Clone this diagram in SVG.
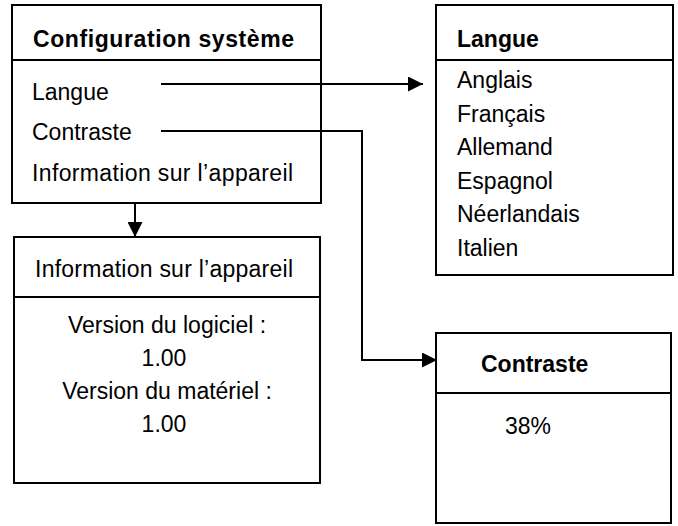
<svg xmlns="http://www.w3.org/2000/svg" width="678" height="526" viewBox="0 0 678 526">
<defs>
<style>
.box{fill:#fff;stroke:#000;stroke-width:2}
.div{stroke:#000;stroke-width:2}
.t{font-family:"Liberation Sans",Arial,sans-serif;font-size:23px;fill:#000}
.b{font-weight:bold}
.c{text-anchor:middle}
.con{fill:none;stroke:#000;stroke-width:2}
</style>
<marker id="ah" viewBox="0 0 15 15" refX="15" refY="7.5" markerWidth="15" markerHeight="15" markerUnits="userSpaceOnUse" orient="auto">
<path d="M0,0 L15,7.5 L0,15 Z" fill="#000"/>
</marker>
</defs>
<rect width="678" height="526" fill="#fff"/>
<g id="config">
<rect class="box" x="12" y="5" width="309" height="198"/>
<line class="div" x1="12" y1="60" x2="321" y2="60"/>
<text class="t b" x="33" y="47" textLength="261" lengthAdjust="spacing">Configuration système</text>
<text class="t" x="32" y="100">Langue</text>
<text class="t" x="32" y="140">Contraste</text>
<text class="t" x="32" y="181" textLength="261" lengthAdjust="spacing">Information sur l’appareil</text>
</g>
<g id="info">
<rect class="box" x="14" y="237" width="306" height="246"/>
<line class="div" x1="14" y1="297" x2="320" y2="297"/>
<text class="t" x="35" y="277" textLength="258" lengthAdjust="spacing">Information sur l’appareil</text>
<text class="t c" x="167" y="333">Version du logiciel :</text>
<text class="t c" x="164" y="366">1.00</text>
<text class="t c" x="167" y="399">Version du matériel :</text>
<text class="t c" x="164" y="432">1.00</text>
</g>
<g id="langue">
<rect class="box" x="436" y="5" width="237" height="270"/>
<line class="div" x1="436" y1="60" x2="673" y2="60"/>
<text class="t b" x="457" y="47">Langue</text>
<text class="t" x="457" y="88">Anglais</text>
<text class="t" x="457" y="122">Français</text>
<text class="t" x="457" y="155">Allemand</text>
<text class="t" x="457" y="189">Espagnol</text>
<text class="t" x="457" y="222">Néerlandais</text>
<text class="t" x="457" y="256">Italien</text>
</g>
<g id="contraste">
<rect class="box" x="436" y="333" width="235" height="190"/>
<line class="div" x1="436" y1="393" x2="671" y2="393"/>
<text class="t b" x="481" y="372">Contraste</text>
<text class="t" x="505" y="434">38%</text>
</g>
<g id="connectors">
<path class="con" d="M135,203 V237" marker-end="url(#ah)"/>
<path class="con" d="M161,84 H423" marker-end="url(#ah)"/>
<path class="con" d="M161,131 H362 V360 H437" marker-end="url(#ah)"/>
</g>
</svg>
